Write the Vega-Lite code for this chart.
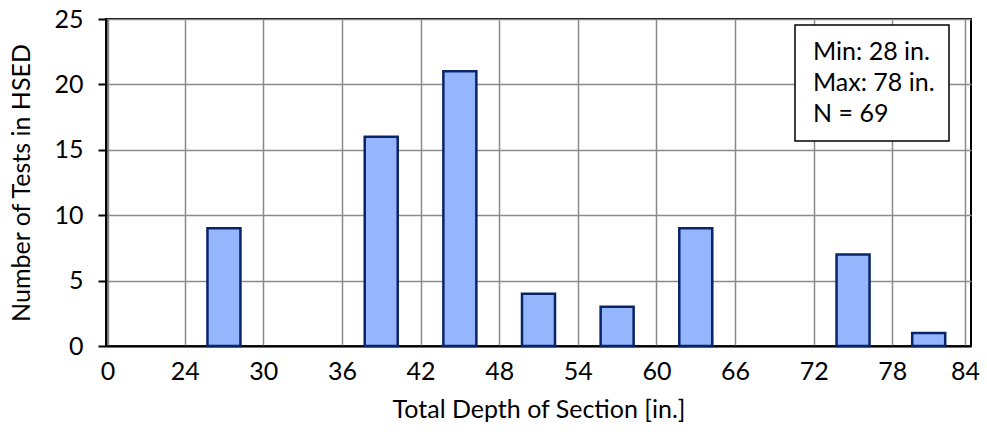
{
  "$schema": "https://vega.github.io/schema/vega-lite/v6.json",
  "autosize": "none",
  "width": 865,
  "height": 327,
  "padding": {"left": 106, "top": 19, "right": 16, "bottom": 86},
  "background": "white",
  "config": {
    "font": "Lato",
    "view": {"stroke": "black", "strokeWidth": 2},
    "legend": {"strokeWidth": 1.5},
    "axis": {
      "labelFont": "Lato",
      "titleFont": "Lato",
      "labelFontSize": 25,
      "titleFontSize": 25,
      "labelColor": "black",
      "titleColor": "black",
      "titleFontWeight": "normal",
      "domainColor": "black",
      "domainWidth": 2,
      "gridColor": "#8a8a8a",
      "gridWidth": 1.5,
      "gridOpacity": 1
    }
  },
  "layer": [
    {
      "data": {
        "values": [
          {"depth_mid": 27, "count": 9},
          {"depth_mid": 39, "count": 16},
          {"depth_mid": 45, "count": 21},
          {"depth_mid": 51, "count": 4},
          {"depth_mid": 57, "count": 3},
          {"depth_mid": 63, "count": 9},
          {"depth_mid": 75, "count": 7},
          {"depth_mid": 81, "count": 1}
        ]
      },
      "mark": {"type": "bar", "width": 33, "fill": "#95B5FC", "stroke": "#0A2468", "strokeWidth": 2.5},
      "encoding": {
        "x": {
          "field": "depth_mid",
          "type": "quantitative",
          "title": "Total Depth of Section [in.]",
          "scale": {
            "domain": [0, 24, 30, 36, 42, 48, 54, 60, 66, 72, 78, 84],
            "range": [0, 78.64, 157.27, 235.91, 314.55, 393.18, 471.82, 550.45, 629.09, 707.73, 786.36, 865],
            "nice": false,
            "zero": false
          },
          "axis": {
            "values": [0, 24, 30, 36, 42, 48, 54, 60, 66, 72, 78, 84],
            "ticks": false,
            "labelPadding": 13,
            "titlePadding": 13,
            "labelFlush": false,
            "labelOverlap": false
          }
        },
        "y": {
          "field": "count",
          "type": "quantitative",
          "title": "Number of Tests in HSED",
          "scale": {"domain": [0, 25], "nice": false},
          "axis": {
            "values": [0, 5, 10, 15, 20, 25],
            "tickColor": "black",
            "tickWidth": 2,
            "tickSize": 8,
            "labelPadding": 15,
            "titlePadding": 19
          }
        }
      }
    },
    {
      "data": {
        "values": [
          {"stat": "Min: 28 in."},
          {"stat": "Max: 78 in."},
          {"stat": "N = 69"}
        ]
      },
      "mark": {"type": "point", "opacity": 0},
      "encoding": {
        "color": {
          "field": "stat",
          "type": "nominal",
          "scale": {"domain": ["Min: 28 in.", "Max: 78 in.", "N = 69"], "range": ["black", "black", "black"]},
          "legend": {
            "title": null,
            "orient": "none",
            "legendX": 689,
            "legendY": 6,
            "padding": 14,
            "fillColor": "white",
            "strokeColor": "black",
            "symbolSize": 0,
            "symbolOpacity": 0,
            "symbolStrokeWidth": 0,
            "labelOffset": -21,
            "labelFont": "Lato",
            "labelFontSize": 25,
            "labelColor": "black",
            "rowPadding": 5
          }
        }
      }
    }
  ]
}
